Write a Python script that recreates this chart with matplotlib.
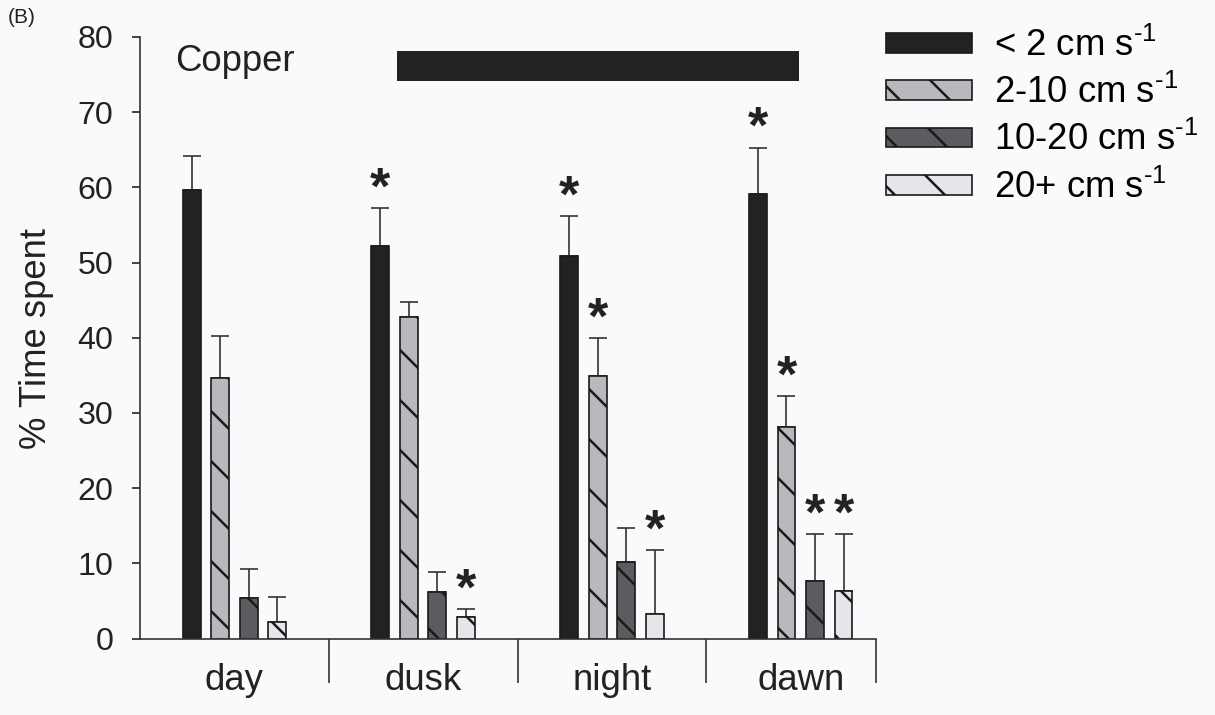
import matplotlib
matplotlib.use("Agg")
import matplotlib.pyplot as plt
import numpy as np

plt.rcParams['font.family'] = ['Liberation Sans', 'DejaVu Sans']
plt.rcParams['mathtext.fontset'] = 'custom'
plt.rcParams['mathtext.rm'] = 'Liberation Sans'
plt.rcParams['mathtext.default'] = 'regular'
plt.rcParams['hatch.linewidth'] = 1.2

# data
periods = ['day', 'dusk', 'night', 'dawn']
speed_labels = ['< 2 cm s$^{\\text{-}1}$', '2-10 cm s$^{\\text{-}1}$',
                '10-20 cm s$^{\\text{-}1}$', '20+ cm s$^{\\text{-}1}$']
lt2 = [59.6, 52.2, 50.9, 59.1]
lt2_se = [4.6, 5.1, 5.3, 6.2]
s2_10 = [34.7, 42.7, 34.9, 28.1]
s2_10_se = [5.5, 2.1, 5.1, 4.1]
s10_20 = [5.4, 6.2, 10.2, 7.7]
s10_20_se = [3.9, 2.6, 4.5, 6.2]
s20 = [2.2, 2.9, 3.3, 6.3]
s20_se = [3.3, 1.0, 8.5, 7.6]
# significance stars (per series, per period)
sig_lt2 = [False, True, True, True]
sig_2_10 = [False, False, True, True]
sig_10_20 = [False, False, False, True]
sig_20 = [False, True, True, True]

means = [lt2, s2_10, s10_20, s20]
errs = [lt2_se, s2_10_se, s10_20_se, s20_se]
sigs = [sig_lt2, sig_2_10, sig_10_20, sig_20]
colors = ['#222222', '#b9b9bd', '#5c5c60', '#e4e6ea']
hatches = ['', '\\', '\\', '\\']

bg = '#f8fafb'
fig = plt.figure(figsize=(8.1, 715 / 150), dpi=150, facecolor=bg)
ax = fig.add_axes([0.1152, 0.1069, 0.606, 0.8414], facecolor=bg)

x = np.arange(len(periods))
bw = 0.095
step = 0.151
handles = []
for i in range(4):
    xp = x + (i - 1.5) * step
    b = ax.bar(xp, means[i], bw, color=colors[i], edgecolor='#1a1a1a',
               linewidth=0.8, hatch=hatches[i], label=speed_labels[i], zorder=2)
    handles.append(b)
    ax.errorbar(xp, means[i], yerr=[np.zeros(4), errs[i]], fmt='none',
                ecolor='#333333', elinewidth=0.8, capsize=4.3, capthick=0.8, zorder=1)
    for j in range(4):
        if sigs[i][j]:
            ax.text(xp[j], means[i][j] + errs[i][j] + 0.6, '*', ha='center',
                    va='baseline', fontsize=25, fontweight='bold', color='#222222')

# night period bar and site label
ax.barh(76.15, 2.13, height=3.9, left=0.86, color='#222222', zorder=2)
ax.text(-0.315, 76.7, 'Copper', fontsize=17.5, ha='left', va='center', color='#222222')

ax.set_xlim(-0.5, 3.4)
ax.set_ylim(0, 80)
ax.set_yticks(np.arange(0, 81, 10))
ax.tick_params(axis='y', direction='out', length=3.8, width=0.8, pad=9,
               labelsize=15.5, colors='#222222')
ax.set_xticks([0.5, 1.5, 2.5, 3.4])
ax.set_xticklabels([])
ax.tick_params(axis='x', which='major', direction='out', length=21, width=0.8, color='#333333')
ax.set_xticks(x, minor=True)
ax.set_xticklabels(periods, minor=True)
ax.tick_params(axis='x', which='minor', length=0, pad=11.5, labelsize=17.5, labelcolor='#222222')

for s in ['top', 'right']:
    ax.spines[s].set_visible(False)
for s in ['left', 'bottom']:
    ax.spines[s].set_linewidth(0.8)
    ax.spines[s].set_color('#333333')

fig.text(37 / 1215, 0.527, '% Time spent', rotation=90, ha='center', va='center',
         fontsize=17.5, color='#222222')
fig.text(0.006, 0.975, '(B)', fontsize=10, ha='left', va='center', color='#222222')

fig.legend(handles=handles, loc='upper left', bbox_to_anchor=(886 / 1215, 1 - 28 / 715),
           frameon=False, fontsize=17.5, handlelength=2.35, handleheight=0.46,
           handletextpad=0.6, labelspacing=0.3, borderpad=0, borderaxespad=0)

fig.savefig('out.png', dpi=150, facecolor=bg)
